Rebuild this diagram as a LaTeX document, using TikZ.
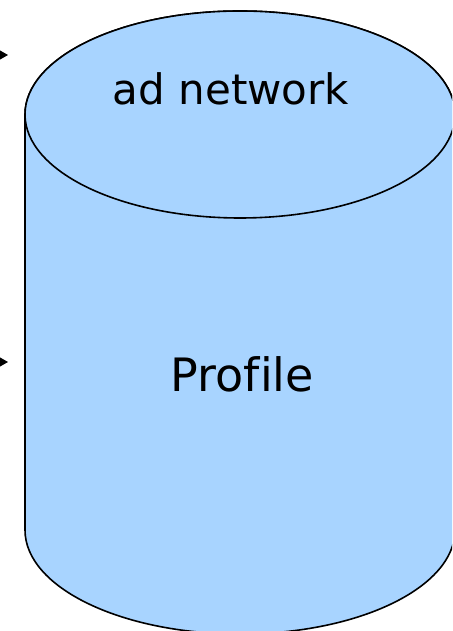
\documentclass[tikz,border=0pt]{standalone}
\usepackage{fontspec}
\setmainfont[Ligatures=NoCommon]{DejaVu Sans}
\usetikzlibrary{arrows.meta}
\definecolor{cylfill}{RGB}{168,212,255}
\tikzset{
  cyl/.style={fill=cylfill, draw=black, line width=1.6pt},
  lbl/.style={anchor=base, inner sep=0pt, text=black},
  inarrow/.style={-{Triangle[length=9pt,width=10pt]}, line width=1pt}
}
\begin{document}
\begin{tikzpicture}
\useasboundingbox (0pt,0pt) rectangle (452pt,631pt);
\clip (0pt,0pt) rectangle (452pt,631pt);
% cylinder body
\path[cyl] (25pt,516.5pt) -- (25pt,101pt)
  arc[start angle=180,end angle=360,x radius=215pt,y radius=104pt]
  -- (455pt,516.5pt)
  arc[start angle=0,end angle=180,x radius=215pt,y radius=103.5pt] -- cycle;
% top ellipse
\path[cyl] (240pt,516.5pt) ellipse [x radius=215pt,y radius=103.5pt];
% labels
\node[lbl, font=\fontsize{42}{49}\selectfont] (adnet) at (231pt,526pt) {ad network};
\node[lbl, font=\fontsize{46}{53}\selectfont] (profile) at (242.5pt,239pt) {Profile};
% incoming arrows (tails outside the picture)
\coordinate (s1) at (-30pt,576pt);
\coordinate (t1) at (8pt,576pt);
\coordinate (s2) at (-30pt,269pt);
\coordinate (t2) at (8pt,269pt);
\draw[inarrow] (s1) -- (t1);
\draw[inarrow] (s2) -- (t2);
\end{tikzpicture}
\end{document}
